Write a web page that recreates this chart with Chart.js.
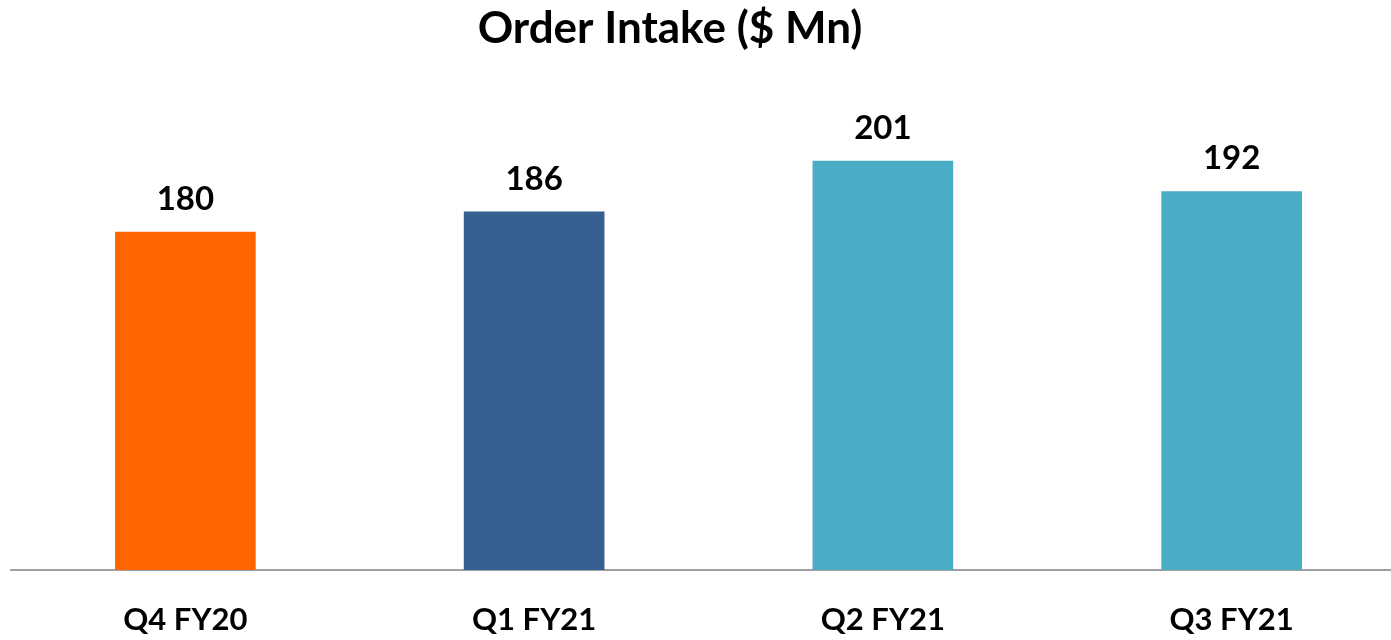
<!DOCTYPE html>
<html>
<head>
<meta charset="utf-8">
<script src="https://cdn.jsdelivr.net/npm/chart.js@4.4.1/dist/chart.umd.min.js"></script>
<style>
html,body{margin:0;padding:0;background:#fff;overflow:hidden;}
#wrap{width:1406px;height:640px;position:relative;}
</style>
</head>
<body>
<div id="wrap"><canvas id="c" width="1406" height="640"></canvas></div>
<script>
const categories = ["Q4 FY20", "Q1 FY21", "Q2 FY21", "Q3 FY21"];
const orderIntake = [180, 186, 201, 192];
const barColors = ["#FF6600", "#376092", "#4BACC6", "#4BACC6"];
const chartTitle = "Order Intake ($ Mn)";
const FONT = "Lato, 'Open Sans', sans-serif";

const valueLabels = {
  id: 'valueLabels',
  afterDatasetsDraw(chart) {
    const ctx = chart.ctx;
    const meta = chart.getDatasetMeta(0);
    ctx.save();
    ctx.fillStyle = '#000';
    ctx.font = "bold 33px " + FONT;
    ctx.textAlign = 'center';
    ctx.textBaseline = 'middle';
    meta.data.forEach((bar, i) => {
      ctx.fillText(String(chart.data.datasets[0].data[i]), bar.x, bar.y - 33);
    });
    ctx.restore();
  }
};

const titleText = {
  id: 'titleText',
  afterDraw(chart) {
    const ctx = chart.ctx;
    ctx.save();
    ctx.fillStyle = '#000';
    ctx.font = "bold 44px " + FONT;
    ctx.textAlign = 'center';
    ctx.textBaseline = 'alphabetic';
    ctx.fillText(chartTitle, 670, 43);
    ctx.restore();
  }
};

new Chart(document.getElementById('c'), {
  type: 'bar',
  data: {
    labels: categories,
    datasets: [{
      data: orderIntake,
      backgroundColor: barColors,
      borderWidth: 0,
      barThickness: 140,
      categoryPercentage: 1,
      barPercentage: 1
    }]
  },
  options: {
    responsive: false,
    animation: false,
    events: [],
    layout: { padding: { left: 11, right: 0, top: 97, bottom: 0 } },
    plugins: {
      legend: { display: false },
      tooltip: { enabled: false },
      title: { display: false }
    },
    scales: {
      x: {
        grid: { display: false, drawTicks: false },
        border: { display: true, color: '#A0A0A0', width: 2 },
        ticks: {
          color: '#000',
          padding: 31,
          font: { family: FONT, size: 31, weight: 'bold' }
        },
        afterFit(scale) { scale.height = 70; }
      },
      y: {
        display: false,
        min: 80,
        max: 220
      }
    }
  },
  plugins: [valueLabels, titleText]
});
</script>
</body>
</html>
